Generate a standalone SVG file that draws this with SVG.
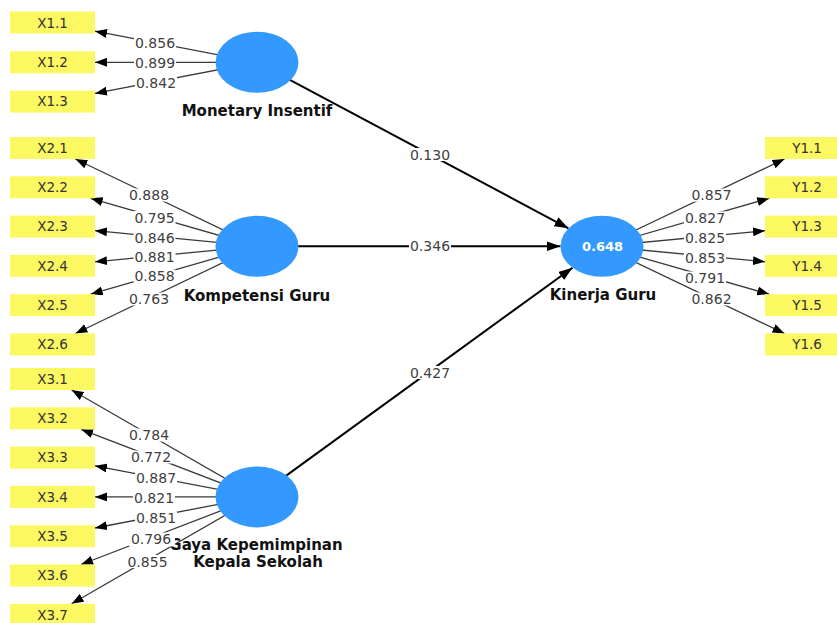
<svg xmlns="http://www.w3.org/2000/svg" width="837" height="623" viewBox="0 0 837 623">
<style>
.box{fill:#FCF862}
.bt{font-family:"DejaVu Sans",sans-serif;font-size:13.5px;fill:#333;text-anchor:middle}
.ln{stroke:#3a3a3a;stroke-width:1.3;fill:none}
.pl{stroke:#000;stroke-width:2;fill:none}
.lv{fill:#3399FF}
.nl{font-family:"DejaVu Sans",sans-serif;font-weight:bold;font-size:15px;fill:#111;text-anchor:middle}
.num{font-family:"DejaVu Sans",sans-serif;font-size:14px;fill:#404040;text-anchor:middle}
.bg{fill:#fff}
</style>
<defs>
<marker id="a" viewBox="0 0 12 9" refX="12" refY="4.5" markerWidth="12" markerHeight="9" markerUnits="userSpaceOnUse" orient="auto"><path d="M0,0 L12,4.5 L0,9 z" fill="#000"/></marker>
<marker id="b" viewBox="0 0 14 10" refX="14" refY="5" markerWidth="14" markerHeight="10" markerUnits="userSpaceOnUse" orient="auto"><path d="M0,0 L14,5 L0,10 z" fill="#000"/></marker>
</defs>
<g id="connectors">
<line class="ln" x1="257" y1="62.3" x2="95" y2="31.2" marker-end="url(#a)"/>
<line class="ln" x1="257" y1="62.3" x2="95" y2="62.3" marker-end="url(#a)"/>
<line class="ln" x1="257" y1="62.3" x2="95" y2="93.4" marker-end="url(#a)"/>
<line class="ln" x1="257" y1="246.25" x2="75.4" y2="159" marker-end="url(#a)"/>
<line class="ln" x1="257" y1="246.25" x2="90.7" y2="198.3" marker-end="url(#a)"/>
<line class="ln" x1="257" y1="246.25" x2="95" y2="230.7" marker-end="url(#a)"/>
<line class="ln" x1="257" y1="246.25" x2="95" y2="261.8" marker-end="url(#a)"/>
<line class="ln" x1="257" y1="246.25" x2="90.7" y2="294.2" marker-end="url(#a)"/>
<line class="ln" x1="257" y1="246.25" x2="75.4" y2="333.5" marker-end="url(#a)"/>
<line class="ln" x1="257" y1="496.9" x2="71.6" y2="390" marker-end="url(#a)"/>
<line class="ln" x1="257" y1="496.9" x2="81.1" y2="429.3" marker-end="url(#a)"/>
<line class="ln" x1="257" y1="496.9" x2="95" y2="465.8" marker-end="url(#a)"/>
<line class="ln" x1="257" y1="496.9" x2="95" y2="496.9" marker-end="url(#a)"/>
<line class="ln" x1="257" y1="496.9" x2="95" y2="528" marker-end="url(#a)"/>
<line class="ln" x1="257" y1="496.9" x2="81.1" y2="564.5" marker-end="url(#a)"/>
<line class="ln" x1="257" y1="496.9" x2="71.6" y2="603.8" marker-end="url(#a)"/>
<line class="ln" x1="602" y1="246.25" x2="784.5" y2="159" marker-end="url(#a)"/>
<line class="ln" x1="602" y1="246.25" x2="769.2" y2="198.3" marker-end="url(#a)"/>
<line class="ln" x1="602" y1="246.25" x2="765" y2="230.7" marker-end="url(#a)"/>
<line class="ln" x1="602" y1="246.25" x2="765" y2="261.8" marker-end="url(#a)"/>
<line class="ln" x1="602" y1="246.25" x2="769.2" y2="294.2" marker-end="url(#a)"/>
<line class="ln" x1="602" y1="246.25" x2="784.5" y2="333.5" marker-end="url(#a)"/>
<line class="pl" x1="257" y1="62.3" x2="568.4" y2="228.3" marker-end="url(#b)"/>
<line class="pl" x1="257" y1="246.25" x2="560.5" y2="246.25" marker-end="url(#b)"/>
<line class="pl" x1="257" y1="496.9" x2="572.5" y2="267.7" marker-end="url(#b)"/>
</g>
<g id="X1.1"><rect class="box" x="10" y="11.5" width="85" height="22"/><text class="bt" x="52.5" y="27.5">X1.1</text></g>
<g id="X1.2"><rect class="box" x="10" y="51.3" width="85" height="22"/><text class="bt" x="52.5" y="67.1">X1.2</text></g>
<g id="X1.3"><rect class="box" x="10" y="90.6" width="85" height="22"/><text class="bt" x="52.5" y="106.4">X1.3</text></g>
<g id="X2.1"><rect class="box" x="10" y="137" width="85" height="22"/><text class="bt" x="52.5" y="152.8">X2.1</text></g>
<g id="X2.2"><rect class="box" x="10" y="176.3" width="85" height="22"/><text class="bt" x="52.5" y="192.1">X2.2</text></g>
<g id="X2.3"><rect class="box" x="10" y="215.6" width="85" height="22"/><text class="bt" x="52.5" y="231.4">X2.3</text></g>
<g id="X2.4"><rect class="box" x="10" y="254.9" width="85" height="22"/><text class="bt" x="52.5" y="270.7">X2.4</text></g>
<g id="X2.5"><rect class="box" x="10" y="294.2" width="85" height="22"/><text class="bt" x="52.5" y="310">X2.5</text></g>
<g id="X2.6"><rect class="box" x="10" y="333.5" width="85" height="22"/><text class="bt" x="52.5" y="349.3">X2.6</text></g>
<g id="X3.1"><rect class="box" x="10" y="368" width="85" height="22"/><text class="bt" x="52.5" y="383.8">X3.1</text></g>
<g id="X3.2"><rect class="box" x="10" y="407.3" width="85" height="22"/><text class="bt" x="52.5" y="423.1">X3.2</text></g>
<g id="X3.3"><rect class="box" x="10" y="446.6" width="85" height="22"/><text class="bt" x="52.5" y="462.4">X3.3</text></g>
<g id="X3.4"><rect class="box" x="10" y="485.9" width="85" height="22"/><text class="bt" x="52.5" y="501.7">X3.4</text></g>
<g id="X3.5"><rect class="box" x="10" y="525.2" width="85" height="22"/><text class="bt" x="52.5" y="541">X3.5</text></g>
<g id="X3.6"><rect class="box" x="10" y="564.5" width="85" height="22"/><text class="bt" x="52.5" y="580.3">X3.6</text></g>
<g id="X3.7"><rect class="box" x="10" y="603.8" width="85" height="22"/><text class="bt" x="52.5" y="619.6">X3.7</text></g>
<g id="Y1.1"><rect class="box" x="765" y="137" width="85" height="22"/><text class="bt" x="807" y="152.8">Y1.1</text></g>
<g id="Y1.2"><rect class="box" x="765" y="176.3" width="85" height="22"/><text class="bt" x="807" y="192.1">Y1.2</text></g>
<g id="Y1.3"><rect class="box" x="765" y="215.6" width="85" height="22"/><text class="bt" x="807" y="231.4">Y1.3</text></g>
<g id="Y1.4"><rect class="box" x="765" y="254.9" width="85" height="22"/><text class="bt" x="807" y="270.7">Y1.4</text></g>
<g id="Y1.5"><rect class="box" x="765" y="294.2" width="85" height="22"/><text class="bt" x="807" y="310">Y1.5</text></g>
<g id="Y1.6"><rect class="box" x="765" y="333.5" width="85" height="22"/><text class="bt" x="807" y="349.3">Y1.6</text></g>
<g id="monetary-insentif"><ellipse class="lv" cx="257" cy="62.3" rx="41.5" ry="30.5"/><text class="nl" x="257" y="116">Monetary Insentif</text></g>
<g id="kompetensi-guru"><ellipse class="lv" cx="257" cy="246.25" rx="41.5" ry="30.5"/><text class="nl" x="257" y="301">Kompetensi Guru</text></g>
<g id="gaya-kepemimpinan"><ellipse class="lv" cx="257" cy="496.9" rx="41.5" ry="30.5"/><text class="nl" x="256" y="550">Gaya Kepemimpinan</text><text class="nl" x="258" y="567">Kepala Sekolah</text></g>
<g id="kinerja-guru"><ellipse class="lv" cx="602" cy="246.25" rx="41.5" ry="30.5"/><text x="602.5" y="251" style="font-family:'DejaVu Sans',sans-serif;font-weight:bold;font-size:13px;fill:#fff;text-anchor:middle">0.648</text><text class="nl" x="603" y="300">Kinerja Guru</text></g>
<g id="connector-labels">
<rect class="bg" x="134" y="36.5" width="42" height="13"/><text class="num" x="155" y="48">0.856</text>
<rect class="bg" x="134" y="56" width="42" height="13"/><text class="num" x="155" y="67.5">0.899</text>
<rect class="bg" x="135" y="76" width="42" height="13"/><text class="num" x="156" y="87.5">0.842</text>
<rect class="bg" x="128" y="188.5" width="42" height="13"/><text class="num" x="149" y="200">0.888</text>
<rect class="bg" x="133.5" y="211" width="42" height="13"/><text class="num" x="154.5" y="222.5">0.795</text>
<rect class="bg" x="133.5" y="231" width="42" height="13"/><text class="num" x="154.5" y="242.5">0.846</text>
<rect class="bg" x="133.5" y="250.5" width="42" height="13"/><text class="num" x="154.5" y="262">0.881</text>
<rect class="bg" x="133.5" y="269.5" width="42" height="13"/><text class="num" x="154.5" y="281">0.858</text>
<rect class="bg" x="128" y="292.5" width="42" height="13"/><text class="num" x="149" y="304">0.763</text>
<rect class="bg" x="128" y="428.5" width="42" height="13"/><text class="num" x="149" y="440">0.784</text>
<rect class="bg" x="130" y="450.5" width="42" height="13"/><text class="num" x="151" y="462">0.772</text>
<rect class="bg" x="135" y="471.5" width="42" height="13"/><text class="num" x="156" y="483">0.887</text>
<rect class="bg" x="133" y="491.5" width="42" height="13"/><text class="num" x="154" y="503">0.821</text>
<rect class="bg" x="135" y="511.5" width="42" height="13"/><text class="num" x="156" y="523">0.851</text>
<rect class="bg" x="129" y="532.5" width="46" height="14"/><text class="num" x="151" y="544">0.796</text>
<rect class="bg" x="126.5" y="555" width="42" height="13"/><text class="num" x="147.5" y="566.5">0.855</text>
<rect class="bg" x="690.5" y="188.5" width="42" height="13"/><text class="num" x="711.5" y="200">0.857</text>
<rect class="bg" x="684" y="211.5" width="42" height="13"/><text class="num" x="705" y="223">0.827</text>
<rect class="bg" x="684" y="231.5" width="42" height="13"/><text class="num" x="705" y="243">0.825</text>
<rect class="bg" x="684" y="251.5" width="42" height="13"/><text class="num" x="705" y="263">0.853</text>
<rect class="bg" x="684" y="271.5" width="42" height="13"/><text class="num" x="705" y="283">0.791</text>
<rect class="bg" x="690.5" y="292.5" width="42" height="13"/><text class="num" x="711.5" y="304">0.862</text>
<rect class="bg" x="409" y="148" width="42" height="13"/><text class="num" x="430" y="159.5">0.130</text>
<rect class="bg" x="409" y="239.75" width="42" height="13"/><text class="num" x="430" y="251.25">0.346</text>
<rect class="bg" x="409" y="366" width="42" height="13"/><text class="num" x="430" y="377.5">0.427</text>
</g>
</svg>
